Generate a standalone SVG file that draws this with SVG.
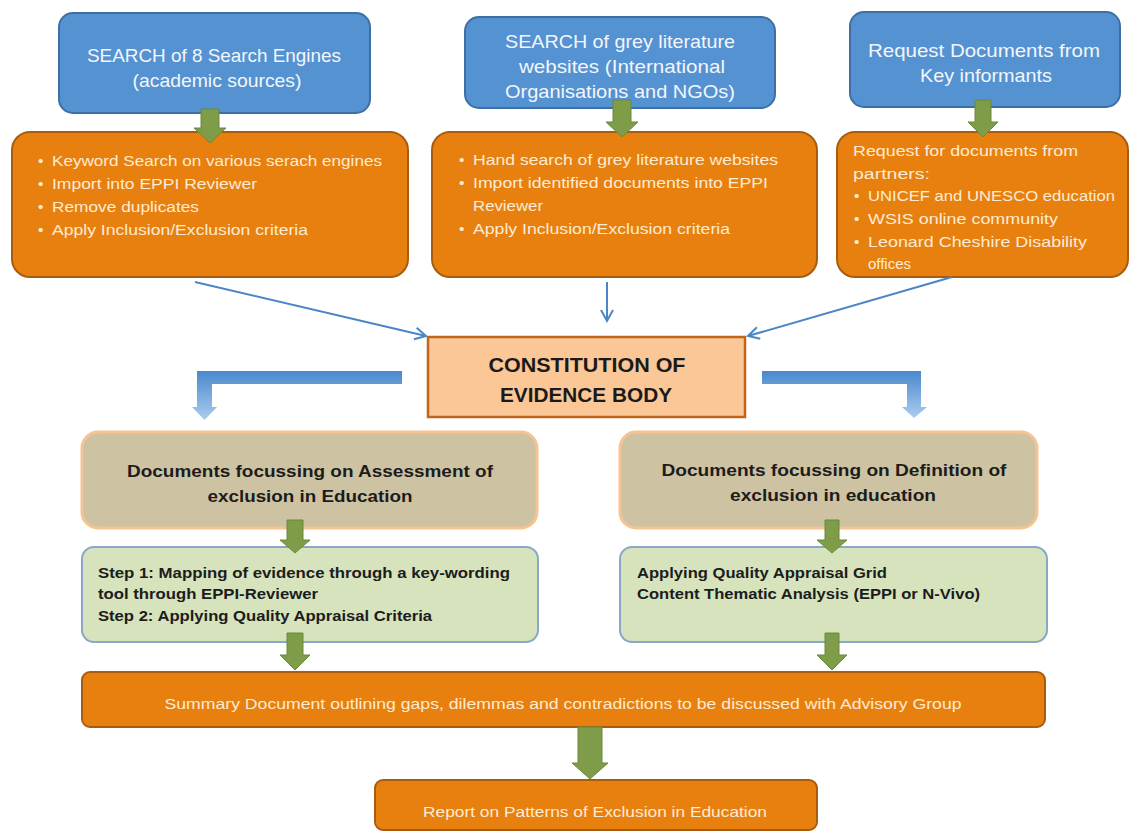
<svg xmlns="http://www.w3.org/2000/svg" width="1130" height="831" viewBox="0 0 1130 831">
<style>
text{font-family:"Liberation Sans",Arial,sans-serif}
.blue{fill:#5592d2;stroke:#3d6fa6;stroke-width:2}
.blt{fill:#f2f6fb;font-size:19px;text-anchor:middle}
.org{fill:#e8800f;stroke:#a85c10;stroke-width:2}
.ot{fill:#fdebd3;font-size:15.5px}
.tan{fill:#cdc3a2;stroke:#f6c391;stroke-width:3}
.tt{fill:#1c1c1c;font-size:17px;font-weight:bold;text-anchor:middle}
.grn{fill:#d6e3bc;stroke:#88a9c6;stroke-width:2}
.gt{fill:#1c1c1c;font-size:14.5px;font-weight:bold}
.ga{fill:#7f9c48;stroke:#6a8a3c;stroke-width:1}
.thin{fill:none;stroke:#4a86c5;stroke-width:2}
</style>
<defs>
<marker id="oa" markerUnits="userSpaceOnUse" markerWidth="16" markerHeight="16" refX="13" refY="8" orient="auto">
<path d="M2,2 L13,8 L2,14" fill="none" stroke="#4a86c5" stroke-width="2"/>
</marker>
<linearGradient id="bg" x1="0" y1="0" x2="0" y2="1">
<stop offset="0" stop-color="#4a88cc"/>
<stop offset="1" stop-color="#a9cdf0"/>
</linearGradient>
</defs>

<g id="search-engines">
<rect class="blue" x="59" y="13" width="311" height="100" rx="14"/>
<text class="blt" x="214" y="62" textLength="254" lengthAdjust="spacingAndGlyphs">SEARCH of 8 Search Engines</text>
<text class="blt" x="217" y="87" textLength="169" lengthAdjust="spacingAndGlyphs">(academic sources)</text>
</g>
<g id="grey-literature">
<rect class="blue" x="465" y="17" width="310" height="91" rx="14"/>
<text class="blt" x="620" y="48" textLength="230" lengthAdjust="spacingAndGlyphs">SEARCH of grey literature</text>
<text class="blt" x="622" y="73" textLength="206" lengthAdjust="spacingAndGlyphs">websites (International</text>
<text class="blt" x="620" y="98" textLength="230" lengthAdjust="spacingAndGlyphs">Organisations and NGOs)</text>
</g>
<g id="key-informants">
<rect class="blue" x="850" y="12" width="270" height="95" rx="14"/>
<text class="blt" x="984" y="57" textLength="232" lengthAdjust="spacingAndGlyphs">Request Documents from</text>
<text class="blt" x="986" y="82" textLength="132" lengthAdjust="spacingAndGlyphs">Key informants</text>
</g>

<g id="academic-steps">
<rect class="org" x="12" y="132" width="396" height="145" rx="18"/>
<text class="ot" x="38" y="166">•</text><text class="ot" x="52" y="166" textLength="330" lengthAdjust="spacingAndGlyphs">Keyword Search on various serach engines</text>
<text class="ot" x="38" y="189">•</text><text class="ot" x="52" y="189" textLength="205" lengthAdjust="spacingAndGlyphs">Import into EPPI Reviewer</text>
<text class="ot" x="38" y="212">•</text><text class="ot" x="52" y="212" textLength="147" lengthAdjust="spacingAndGlyphs">Remove duplicates</text>
<text class="ot" x="38" y="235">•</text><text class="ot" x="52" y="235" textLength="256" lengthAdjust="spacingAndGlyphs">Apply Inclusion/Exclusion criteria</text>
</g>
<g id="grey-steps">
<rect class="org" x="432" y="132" width="385" height="145" rx="18"/>
<text class="ot" x="459" y="165">•</text><text class="ot" x="473" y="165" textLength="305" lengthAdjust="spacingAndGlyphs">Hand search of grey literature websites</text>
<text class="ot" x="459" y="188">•</text><text class="ot" x="473" y="188" textLength="295" lengthAdjust="spacingAndGlyphs">Import identified documents into EPPI</text>
<text class="ot" x="473" y="211" textLength="70" lengthAdjust="spacingAndGlyphs">Reviewer</text>
<text class="ot" x="459" y="234">•</text><text class="ot" x="473" y="234" textLength="257" lengthAdjust="spacingAndGlyphs">Apply Inclusion/Exclusion criteria</text>
</g>
<g id="partner-steps">
<rect class="org" x="837" y="132" width="291" height="145" rx="18"/>
<text class="ot" x="853" y="156" textLength="225" lengthAdjust="spacingAndGlyphs">Request for documents from</text>
<text class="ot" x="853" y="179" textLength="77" lengthAdjust="spacingAndGlyphs">partners:</text>
<text class="ot" x="854" y="201">•</text><text class="ot" x="868" y="201" textLength="247" lengthAdjust="spacingAndGlyphs">UNICEF and UNESCO education</text>
<text class="ot" x="854" y="224">•</text><text class="ot" x="868" y="224" textLength="190" lengthAdjust="spacingAndGlyphs">WSIS online community</text>
<text class="ot" x="854" y="247">•</text><text class="ot" x="868" y="247" textLength="219" lengthAdjust="spacingAndGlyphs">Leonard Cheshire Disability</text>
<text class="ot" x="868" y="269" textLength="43" lengthAdjust="spacingAndGlyphs">offices</text>
</g>

<g id="evidence-body">
<rect x="428" y="337" width="317" height="80" fill="#fbc796" stroke="#c0651c" stroke-width="2.5"/>
<text x="587" y="372" fill="#1a1a1a" font-size="19.5" font-weight="bold" text-anchor="middle" textLength="197" lengthAdjust="spacingAndGlyphs">CONSTITUTION OF</text>
<text x="586" y="402" fill="#1a1a1a" font-size="19.5" font-weight="bold" text-anchor="middle" textLength="172" lengthAdjust="spacingAndGlyphs">EVIDENCE BODY</text>
</g>

<g id="assessment">
<rect class="tan" x="82" y="432" width="455" height="96" rx="16"/>
<text class="tt" x="310" y="477" textLength="366" lengthAdjust="spacingAndGlyphs">Documents focussing on Assessment of</text>
<text class="tt" x="310" y="502" textLength="205" lengthAdjust="spacingAndGlyphs">exclusion in Education</text>
</g>
<g id="definition">
<rect class="tan" x="620" y="432" width="417" height="96" rx="16"/>
<text class="tt" x="834" y="476" textLength="345" lengthAdjust="spacingAndGlyphs">Documents focussing on Definition of</text>
<text class="tt" x="833" y="501" textLength="206" lengthAdjust="spacingAndGlyphs">exclusion in education</text>
</g>

<g id="assessment-steps">
<rect class="grn" x="82" y="547" width="456" height="95" rx="12"/>
<text class="gt" x="98" y="578" textLength="412" lengthAdjust="spacingAndGlyphs">Step 1: Mapping of evidence through a key-wording</text>
<text class="gt" x="98" y="599" textLength="220" lengthAdjust="spacingAndGlyphs">tool through EPPI-Reviewer</text>
<text class="gt" x="98" y="621" textLength="334" lengthAdjust="spacingAndGlyphs">Step 2: Applying Quality Appraisal Criteria</text>
</g>
<g id="definition-steps">
<rect class="grn" x="620" y="547" width="427" height="95" rx="12"/>
<text class="gt" x="637" y="578" textLength="250" lengthAdjust="spacingAndGlyphs">Applying Quality Appraisal Grid</text>
<text class="gt" x="637" y="599" textLength="343" lengthAdjust="spacingAndGlyphs">Content Thematic Analysis (EPPI or N-Vivo)</text>
</g>

<g id="summary">
<rect class="org" x="82" y="672" width="963" height="55" rx="8"/>
<text class="ot" x="563" y="709" text-anchor="middle" font-size="16" textLength="797" lengthAdjust="spacingAndGlyphs">Summary Document outlining gaps, dilemmas and contradictions to be discussed with Advisory Group</text>
</g>
<g id="report">
<rect class="org" x="375" y="780" width="442" height="50" rx="8"/>
<text class="ot" x="595" y="817" text-anchor="middle" font-size="16" textLength="344" lengthAdjust="spacingAndGlyphs">Report on Patterns of Exclusion in Education</text>
</g>

<g id="connectors">
<polygon class="ga" points="201,109 219,109 219,128 226,128 210,143 194,128 201,128"/>
<polygon class="ga" points="613,100 631,100 631,122 638,122 622,137 606,122 613,122"/>
<polygon class="ga" points="975,100 991,100 991,122 998,122 983,137 968,122 975,122"/>
<line class="thin" x1="195" y1="282" x2="426" y2="336" marker-end="url(#oa)"/>
<line class="thin" x1="607" y1="282" x2="607" y2="321" marker-end="url(#oa)"/>
<line class="thin" x1="952" y1="277" x2="748" y2="336" marker-end="url(#oa)"/>
<polygon fill="url(#bg)" points="402,371 197,371 197,407 192,407 204.5,420 217,407 212,407 212,384 402,384"/>
<polygon fill="url(#bg)" points="762,371 921,371 921,407 927,407 914,418 902,407 907,407 907,384 762,384"/>
<polygon class="ga" points="287,520 303,520 303,540 310,540 295,553 280,540 287,540"/>
<polygon class="ga" points="825,520 839,520 839,540 847,540 832,553 817,540 825,540"/>
<polygon class="ga" points="287,633 303,633 303,655 310,655 295,670 280,655 287,655"/>
<polygon class="ga" points="825,633 839,633 839,655 847,655 832,670 817,655 825,655"/>
<polygon class="ga" points="578,727 602,727 602,763 608,763 590,779 572,763 578,763"/>
</g>
</svg>
